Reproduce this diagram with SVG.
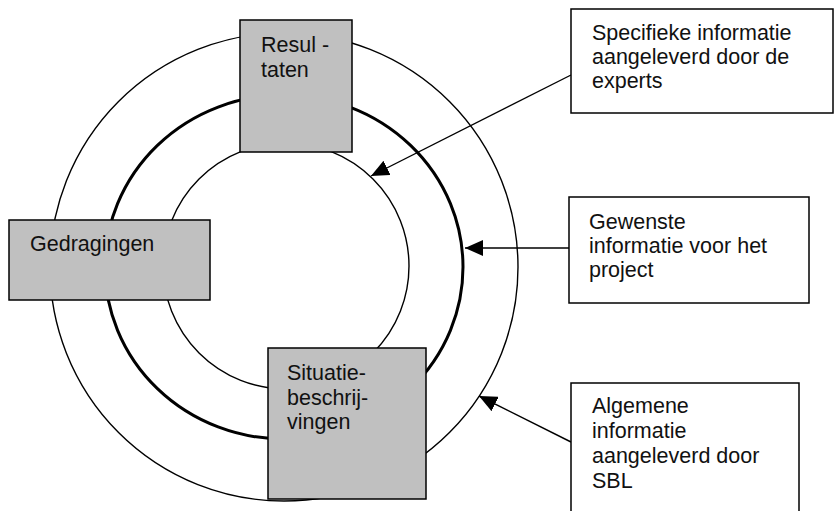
<svg xmlns="http://www.w3.org/2000/svg" width="834" height="511" viewBox="0 0 834 511">
<style>
.ring{fill:none;stroke:#000;stroke-width:1.4}
.thick{fill:none;stroke:#000;stroke-width:3}
.gbox{fill:#c0c0c0;stroke:#000;stroke-width:1.5}
.wbox{fill:#fff;stroke:#000;stroke-width:1.5}
.conn{fill:none;stroke:#000;stroke-width:1.4;marker-end:url(#ah)}
text{font-family:"Liberation Sans",Arial,sans-serif;font-size:21.5px;fill:#111}
</style>
<defs>
<marker id="ah" markerUnits="userSpaceOnUse" markerWidth="18" markerHeight="16" viewBox="0 -8 18 16" refX="18" refY="0" orient="auto">
<path d="M0,-8 L18,0 L0,8 z" fill="#000"/>
</marker>
</defs>
<rect width="834" height="511" fill="#fff"/>
<g id="rings">
<circle class="ring" cx="284" cy="267" r="234"/>
<ellipse class="thick" cx="284" cy="267" rx="179" ry="172"/>
<circle class="ring" cx="286" cy="266" r="123"/>
</g>
<g id="connectors">
<line class="conn" x1="571" y1="75" x2="371" y2="176"/>
<line class="conn" x1="569" y1="248" x2="465" y2="248"/>
<line class="conn" x1="571" y1="442" x2="479" y2="396"/>
</g>
<g id="resultaten">
<rect class="gbox" x="240" y="20" width="112" height="132"/>
<text x="261" y="52">Resul -</text>
<text x="261" y="77">taten</text>
</g>
<g id="gedragingen">
<rect class="gbox" x="9" y="220" width="201" height="80"/>
<text x="30" y="251">Gedragingen</text>
</g>
<g id="situatie">
<rect class="gbox" x="268" y="348" width="158" height="151"/>
<text x="287" y="380">Situatie-</text>
<text x="287" y="405">beschrij-</text>
<text x="287" y="429">vingen</text>
</g>
<g id="specifieke">
<rect class="wbox" x="571" y="9" width="262" height="104"/>
<text x="592" y="40">Specifieke informatie</text>
<text x="592" y="64">aangeleverd door de</text>
<text x="592" y="88">experts</text>
</g>
<g id="gewenste">
<rect class="wbox" x="569" y="197" width="240" height="106"/>
<text x="589" y="229">Gewenste</text>
<text x="589" y="253">informatie voor het</text>
<text x="589" y="277">project</text>
</g>
<g id="algemene">
<rect class="wbox" x="571" y="383" width="228" height="140"/>
<text x="592" y="413">Algemene</text>
<text x="592" y="438">informatie</text>
<text x="592" y="463">aangeleverd door</text>
<text x="592" y="488">SBL</text>
</g>
</svg>
